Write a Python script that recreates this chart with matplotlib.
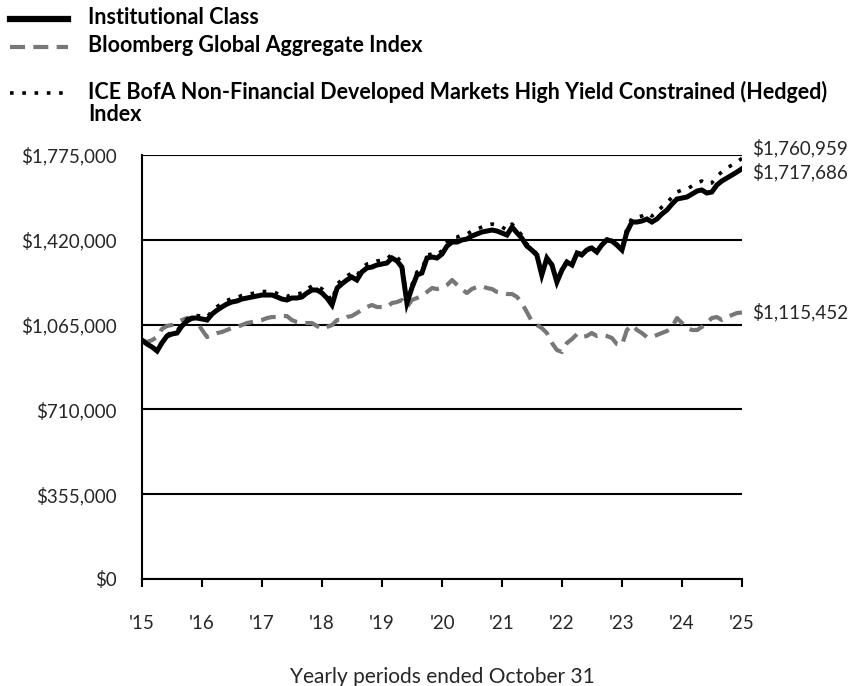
import numpy as np
import pandas as pd
import matplotlib
matplotlib.use("Agg")
import matplotlib.pyplot as plt
from matplotlib.lines import Line2D

dates = pd.date_range("2015-10-31", periods=121, freq="ME")

institutional = [
    1000.0, 983.7, 971.2, 954.4, 987.9, 1017.2, 1025.6, 1029.8, 1059.1, 1080.0,
    1092.5, 1092.5, 1088.4, 1084.2, 1109.3, 1126.0, 1138.6, 1151.2, 1159.5, 1163.7,
    1172.1, 1176.3, 1180.5, 1184.6, 1188.8, 1188.8, 1188.8, 1180.5, 1172.1, 1167.9,
    1176.3, 1176.3, 1180.5, 1197.2, 1209.8, 1209.8, 1197.2, 1176.3, 1147.0, 1218.1,
    1234.9, 1251.6, 1264.2, 1251.6, 1285.1, 1301.8, 1306.0, 1314.4, 1318.6, 1322.8,
    1343.7, 1331.1, 1306.0, 1155.3, 1218.1, 1272.5, 1280.9, 1343.7, 1347.9, 1343.7,
    1360.5, 1393.9, 1410.7, 1410.7, 1419.1, 1423.2, 1435.8, 1444.2, 1452.5, 1456.7,
    1460.9, 1456.7, 1448.4, 1440.0, 1473.5, 1448.4, 1427.4, 1393.9, 1377.2, 1356.3,
    1272.5, 1343.7, 1314.4, 1243.2, 1293.5, 1327.0, 1314.4, 1364.6, 1356.3, 1377.2,
    1385.6, 1368.8, 1398.1, 1419.1, 1414.9, 1398.1, 1377.2, 1452.5, 1494.4, 1494.4,
    1498.6, 1507.0, 1494.4, 1507.0, 1527.9, 1544.6, 1569.8, 1590.7, 1594.9, 1599.1,
    1611.6, 1624.2, 1628.4, 1615.8, 1620.0, 1649.3, 1666.0, 1678.6, 1691.1, 1703.7,
    1717.686,
]

bloomberg = [
    1000.0, 992.1, 1000.0, 1013.0, 1046.5, 1059.1, 1063.2, 1075.8, 1084.2, 1092.5,
    1092.5, 1075.8, 1042.3, 1013.0, 1021.4, 1029.8, 1033.9, 1042.3, 1050.7, 1054.9,
    1063.2, 1071.6, 1075.8, 1080.0, 1084.2, 1092.5, 1096.7, 1096.7, 1100.9, 1100.9,
    1084.2, 1075.8, 1071.6, 1071.6, 1071.6, 1059.1, 1046.5, 1054.9, 1063.2, 1084.2,
    1084.2, 1096.7, 1100.9, 1113.5, 1126.0, 1138.6, 1147.0, 1138.6, 1138.6, 1138.6,
    1155.3, 1159.5, 1167.9, 1138.6, 1167.9, 1176.3, 1184.6, 1201.4, 1218.1, 1213.9,
    1218.1, 1230.7, 1251.6, 1230.7, 1213.9, 1197.2, 1213.9, 1222.3, 1226.5, 1218.1,
    1213.9, 1201.4, 1197.2, 1193.0, 1193.0, 1180.5, 1155.3, 1117.7, 1080.0, 1063.2,
    1050.7, 1029.8, 987.9, 958.6, 950.2, 987.9, 1004.6, 1025.6, 1013.0, 1017.2,
    1029.8, 1017.2, 1021.4, 1017.2, 1008.8, 983.7, 979.5, 1042.3, 1063.2, 1042.3,
    1029.8, 1013.0, 1013.0, 1021.4, 1029.8, 1038.1, 1054.9, 1092.5, 1071.6, 1050.7,
    1042.3, 1042.3, 1054.9, 1071.6, 1092.5, 1096.7, 1084.2, 1096.7, 1105.1, 1113.5,
    1115.452,
]

ice_bofa = [
    1000.0, 985.0, 973.0, 957.0, 992.0, 1021.0, 1034.0, 1038.0, 1067.5, 1088.4,
    1100.9, 1102.5, 1101.0, 1096.8, 1121.9, 1140.7, 1153.3, 1165.9, 1174.2, 1178.4,
    1186.8, 1191.0, 1195.2, 1199.3, 1203.5, 1203.5, 1203.5, 1195.2, 1186.8, 1182.6,
    1191.0, 1193.0, 1197.2, 1213.9, 1226.5, 1226.5, 1213.9, 1193.0, 1163.7, 1234.8,
    1251.6, 1268.3, 1280.9, 1268.3, 1301.8, 1318.5, 1322.7, 1331.1, 1335.3, 1339.5,
    1360.4, 1347.8, 1322.7, 1163.7, 1230.7, 1285.1, 1293.5, 1356.3, 1360.5, 1356.3,
    1375.2, 1410.6, 1431.6, 1431.6, 1440.0, 1444.1, 1456.7, 1465.1, 1473.4, 1481.8,
    1486.0, 1481.8, 1473.5, 1460.9, 1486.1, 1461.0, 1440.0, 1402.3, 1385.6, 1360.5,
    1276.7, 1347.9, 1318.6, 1247.4, 1297.7, 1331.2, 1318.6, 1368.8, 1360.5, 1381.4,
    1389.8, 1373.0, 1402.3, 1423.3, 1419.1, 1402.3, 1381.4, 1465.1, 1511.1, 1515.3,
    1519.5, 1532.1, 1519.5, 1536.3, 1557.2, 1573.9, 1599.1, 1620.0, 1628.4, 1632.6,
    1645.1, 1657.7, 1666.1, 1653.5, 1657.7, 1687.0, 1703.7, 1720.5, 1733.0, 1745.6,
    1760.959,
]

series_names = [
    "Institutional Class",
    "Bloomberg Global Aggregate Index",
    "ICE BofA Non-Financial Developed Markets High Yield Constrained (Hedged)\nIndex",
]
end_labels = ["$1,717,686", "$1,115,452", "$1,760,959"]
y_ticks = [0, 355000, 710000, 1065000, 1420000, 1775000]
y_tick_labels = ["$0", "$355,000", "$710,000", "$1,065,000", "$1,420,000", "$1,775,000"]
x_tick_years = list(range(2015, 2026))
x_tick_labels = ["'15", "'16", "'17", "'18", "'19", "'20", "'21", "'22", "'23", "'24", "'25"]
x_title = "Yearly periods ended October 31"

FONT = "Lato"
plt.rcParams["font.family"] = [FONT, "DejaVu Sans"]
TXT = "#262626"

W, H = 853, 686
fig = plt.figure(figsize=(W / 100, H / 100), dpi=100)
ax = fig.add_axes([142 / W, 1 - 579 / H, 600 / W, 424 / H])

inst = np.array(institutional) * 1000
bbg = np.array(bloomberg) * 1000
ice = np.array(ice_bofa) * 1000

gray = "#777777"
ax.plot(dates, bbg, color=gray, lw=3.0, dashes=(3.6, 2.0), solid_capstyle="butt", zorder=3)
ax.plot(dates, inst, color="black", lw=3.6, zorder=4, solid_joinstyle="miter")
ax.plot(dates, ice, color="black", lw=2.6, linestyle=(0, (1, 2.4)), zorder=5)

ax.set_ylim(0, 1775000)
ax.set_xlim(dates[0], dates[-1])
ax.set_yticks(y_ticks)
ax.set_yticklabels(y_tick_labels)
tick_dates = [pd.Timestamp(f"{y}-10-31") for y in x_tick_years]
ax.set_xticks(tick_dates)
ax.set_xticklabels(x_tick_labels)

ax.grid(axis="y", color="black", lw=1.5)
ax.set_axisbelow(True)
for s in ["top", "right"]:
    ax.spines[s].set_visible(False)
ax.spines["left"].set_linewidth(1.5)
ax.spines["bottom"].set_linewidth(1.5)
ax.tick_params(axis="y", length=0, pad=18, labelsize=13.5, labelcolor=TXT)
ax.tick_params(axis="x", length=6, width=1.5, pad=20, labelsize=13.5, labelcolor=TXT, color="black")

fig.text(442 / W, 1 - 677 / H, x_title, fontsize=15, ha="center", va="center", color=TXT)

# end labels
offsets_pt = [-2.2, 0, 7.2]
vals = [inst[-1], bbg[-1], ice[-1]]
for lab, v, off in zip(end_labels, vals, offsets_pt):
    ax.annotate(lab, xy=(dates[-1], v), xytext=(7.2, off),
                textcoords="offset points", ha="left", va="center",
                fontsize=13.5, color=TXT, annotation_clip=False)

# legend (manual)
leg_rows = [19, 47, 93]
styles = [
    dict(color="black", lw=4.5),
    dict(color=gray, lw=3.0, dashes=(3.6, 2.0)),
    dict(color="black", lw=2.6, linestyle=(0, (1, 2.4))),
]
for name, yy, st in zip(series_names, leg_rows, styles):
    ln = Line2D([10 / W, 68 / W], [1 - yy / H, 1 - yy / H], transform=fig.transFigure, **st)
    fig.add_artist(ln)
    fig.text(88 / W, 1 - (yy - 12) / H, name, fontsize=15.5, fontweight="bold",
             ha="left", va="top", color="black", linespacing=1.03)

fig.savefig("out.png", dpi=100)
